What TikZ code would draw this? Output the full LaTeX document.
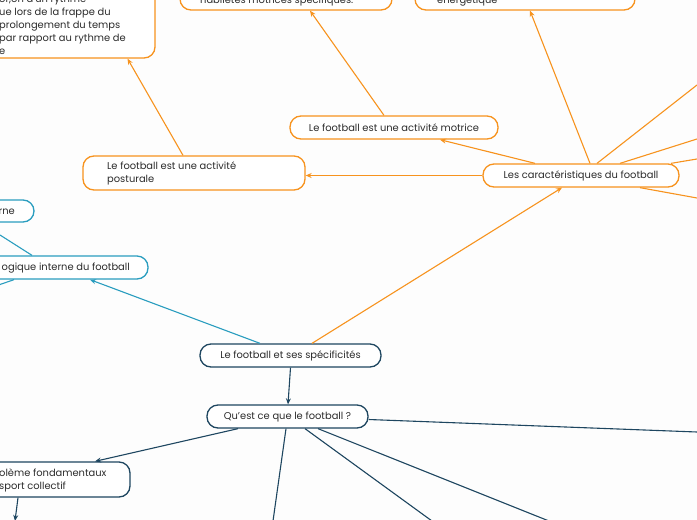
\documentclass[tikz,border=0pt]{standalone}
\usepackage{fontspec}
\setmainfont{Poppins}
\usetikzlibrary{arrows.meta}
\definecolor{org}{HTML}{F7931E}
\definecolor{teal}{HTML}{2A9DBF}
\definecolor{navy}{HTML}{1E4660}
\definecolor{txtc}{HTML}{2B2B2B}
\definecolor{bg}{HTML}{FDFDFD}
\begin{document}
\begin{tikzpicture}[x=1pt,y=-1pt,
  box/.style={draw, rounded corners=11pt, line width=1.3pt, fill=white, inner sep=0pt, text=txtc, font=\fontsize{9.9}{13}\selectfont},
  obox/.style={box, draw=org},
  tbox/.style={box, draw=teal},
  nbox/.style={box, draw=navy},
  txt/.style={text=txtc, inner sep=0pt, font=\fontsize{9.9}{13}\selectfont},
  oline/.style={draw=org, line width=1.1pt},
  tline/.style={draw=teal, line width=1.1pt},
  nline/.style={draw=navy, line width=1.1pt},
  tip/.style={-{Stealth[length=6pt,width=5pt]}},
]
\useasboundingbox (0,0) rectangle (697,520);
\fill[bg] (0,0) rectangle (697,520);
\clip (0,0) rectangle (697,520);

% boxes
\node[obox, minimum width=295pt, minimum height=118pt] (tlbox) at (7.5,-1) {};
\node[txt, anchor=north west, align=left] (tltext) at (-1,-5) {or,on d'un rythme\\ue lors de la frappe du\\prolongement du temps\\par rapport au rythme de\\e};
\node[obox, minimum width=212pt, minimum height=40pt] (hab) at (286,-10) {};
\node[txt, anchor=base west] (habtxt) at (200,3) {habiletés motrices spécifiques.};
\node[obox, minimum width=220pt, minimum height=40pt] (ener) at (525,-10) {};
\node[txt, anchor=base west] (enertxt) at (437,3) {énergétique};

\node[obox, minimum width=208pt, minimum height=23pt] (motrice) at (394,127.5) {Le football est une activité motrice};
\node[obox, minimum width=222pt, minimum height=34pt] (post) at (194,173) {};
\node[txt, anchor=west, align=left] (posttxt) at (107,173.5) {Le football est une activité\\posturale};
\node[obox, minimum width=196pt, minimum height=23pt] (car) at (581,175.5) {Les caractéristiques du football};

\node[tbox, minimum width=134pt, minimum height=22pt] (rne) at (-33,211) {};
\node[txt, anchor=east] (rnetxt) at (15,212) {rne};
\node[tbox, minimum width=298pt, minimum height=23pt] (logique) at (-1,267.5) {};
\node[txt, anchor=east] (logtxt) at (130,268) {ogique interne du football};

\node[nbox, minimum width=181pt, minimum height=23pt] (spec) at (290.5,355.5) {Le football et ses spécificités};
\node[nbox, minimum width=161pt, minimum height=23pt] (qu) at (287.5,416.5) {Qu’est ce que le football ?};
\node[nbox, minimum width=280pt, minimum height=35pt] (prob) at (-10,479.5) {};
\node[txt, anchor=west, align=left] (probtxt) at (-1,480.5) {olème fondamentaux\\sport collectif};

% free ends
\coordinate (c1) at (697,85);
\coordinate (c2) at (697,139);
\coordinate (c3) at (697,159);
\coordinate (c4) at (697,198);
\coordinate (l1) at (0,235);
\coordinate (l2) at (0,284.5);
\coordinate (q1) at (697,432);
\coordinate (q2) at (273,521);
\coordinate (q3) at (432,521);
\coordinate (q4) at (549,521);
\coordinate (p1) at (15,521);

% orange connectors
\draw[oline, tip] ([xshift=-10pt]motrice.north) -- ([xshift=24pt]hab.south);
\draw[oline, tip] ([xshift=9pt]car.north) -- ([xshift=5pt]ener.south);
\draw[oline, tip] ([xshift=-11pt]post.north) -- ([xshift=120pt]tlbox.south);
\draw[oline, tip] ([xshift=-46pt]car.north) -- ([xshift=46pt]motrice.south);
\draw[oline, tip] (car.west) -- (car.west -| post.east);
\draw[oline] ([xshift=16pt]car.north) -- (c1);
\draw[oline] ([xshift=39pt]car.north) -- (c2);
\draw[oline] ([xshift=90pt]car.north) -- (c3);
\draw[oline] ([xshift=59pt]car.south) -- (c4);
\draw[oline, tip] ([xshift=21.5pt]spec.north) -- ([xshift=-19pt]car.south);

% teal connectors
\draw[tline, tip] ([xshift=-30.5pt]spec.north) -- ([xshift=91pt]logique.south);
\draw[tline] ([xshift=33pt]logique.north) -- (l1);
\draw[tline] ([xshift=15pt]logique.south) -- (l2);

% navy connectors
\draw[nline, tip] (spec.south) -- ([xshift=0.5pt]qu.north);
\draw[nline, tip] ([xshift=-49.5pt]qu.south) -- ([xshift=105pt]prob.north);
\draw[nline] ([yshift=-3pt]qu.east) -- (q1);
\draw[nline] ([xshift=-1.5pt]qu.south) -- (q2);
\draw[nline] ([xshift=17.5pt]qu.south) -- (q3);
\draw[nline] ([xshift=30.5pt]qu.south) -- (q4);
\draw[nline, tip] ([xshift=28pt]prob.south) -- (p1);
\end{tikzpicture}
\end{document}
